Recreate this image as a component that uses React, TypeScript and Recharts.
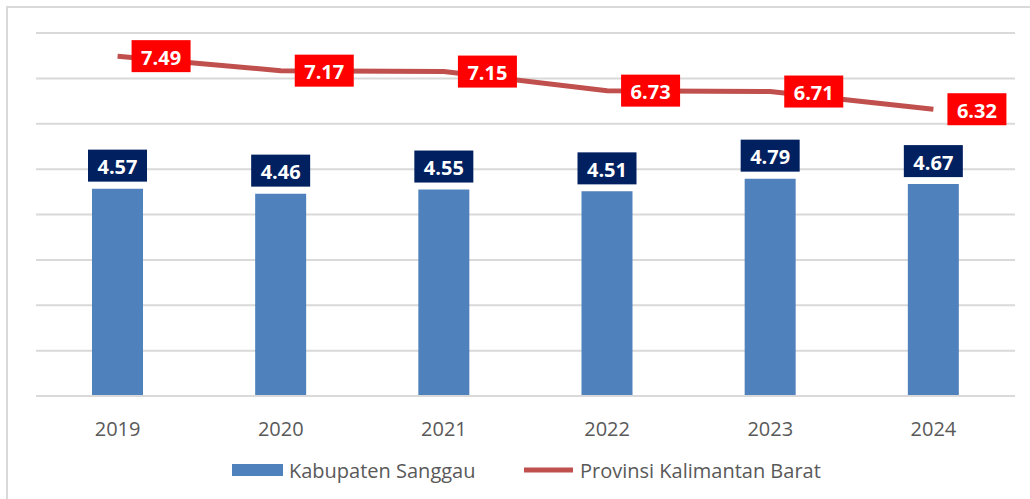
import { Bar, CartesianGrid, ComposedChart, LabelList, Legend, Line, XAxis, YAxis } from "recharts";

const years = ["2019", "2020", "2021", "2022", "2023", "2024"];
const sanggau = [4.57, 4.46, 4.55, 4.51, 4.79, 4.67];
const kalbar = [7.49, 7.17, 7.15, 6.73, 6.71, 6.32];
const yTicks = [0, 1, 2, 3, 4, 5, 6, 7, 8];

const data = years.map((year, i) => ({ year, sanggau: sanggau[i], kalbar: kalbar[i] }));

const FONT = "'Open Sans', sans-serif";

const BarLabel = (props: any) => {
  const { x, y, width, value } = props;
  const cx = x + width / 2;
  const bottom = y - 7;
  return (
    <g>
      <rect x={cx - 29.5} y={bottom - 32} width={59} height={32} fill="#002060" />
      <text x={cx} y={bottom - 15} textAnchor="middle" dominantBaseline="central" fill="#fff" fontSize={20} fontWeight={700} fontFamily={FONT}>
        {value.toFixed(2)}
      </text>
    </g>
  );
};

const LineLabel = (props: any) => {
  const { x, y, value } = props;
  const left = x + 14;
  return (
    <g>
      <rect x={left} y={y - 16} width={59} height={32} fill="#ff0000" />
      <text x={left + 29.5} y={y + 1} textAnchor="middle" dominantBaseline="central" fill="#fff" fontSize={20} fontWeight={700} fontFamily={FONT}>
        {value.toFixed(2)}
      </text>
    </g>
  );
};

const YearTick = (props: any) => {
  const { x, payload } = props;
  return (
    <text x={x} y={428} textAnchor="middle" dominantBaseline="central" fill="#595959" fontSize={20} fontFamily={FONT}>
      {payload.value}
    </text>
  );
};

const LegendBox = () => (
  <svg width={1030} height={30} style={{ display: "block" }}>
    <rect x={232} y={9} width={51} height={12} fill="#4f81bd" />
    <text x={289} y={15} dominantBaseline="central" fill="#595959" fontSize={20} fontFamily={FONT}>
      Kabupaten Sanggau
    </text>
    <rect x={524} y={12.5} width={49} height={5} fill="#c0504d" />
    <text x={580} y={15} dominantBaseline="central" fill="#595959" fontSize={20} fontFamily={FONT}>
      Provinsi Kalimantan Barat
    </text>
  </svg>
);

export default function App() {
  return (
    <div style={{ position: "absolute", left: 0, top: 0, width: 1030, height: 499, background: "#fff", overflow: "hidden" }}>
      <div
        style={{
          position: "absolute",
          left: 6,
          top: 6,
          width: 1040,
          height: 510,
          border: "2px solid #d9d9d9",
          boxSizing: "border-box",
        }}
      />
      <ComposedChart
        width={1030}
        height={499}
        data={data}
        margin={{ top: 33, right: 15, bottom: 43, left: 36 }}
        style={{ position: "absolute", left: 0, top: 0 }}
      >
        <CartesianGrid vertical={false} stroke="#d9d9d9" strokeWidth={2} />
        <YAxis hide width={0} domain={[0, 8]} ticks={yTicks} />
        <XAxis
          dataKey="year"
          height={30}
          axisLine={{ stroke: "#d9d9d9", strokeWidth: 2 }}
          tickLine={false}
          tick={<YearTick />}
          interval={0}
        />
        <Legend
          verticalAlign="bottom"
          height={30}
          content={<LegendBox />}
          wrapperStyle={{ position: "absolute", left: 0, top: 455, width: 1030, height: 30 }}
        />
        <Bar dataKey="sanggau" name="Kabupaten Sanggau" fill="#4f81bd" barSize={51} isAnimationActive={false}>
          <LabelList dataKey="sanggau" content={<BarLabel />} />
        </Bar>
        <Line
          dataKey="kalbar"
          name="Provinsi Kalimantan Barat"
          stroke="#c0504d"
          strokeWidth={5}
          dot={false}
          activeDot={false}
          isAnimationActive={false}
        >
          <LabelList dataKey="kalbar" content={<LineLabel />} />
        </Line>
      </ComposedChart>
    </div>
  );
}
